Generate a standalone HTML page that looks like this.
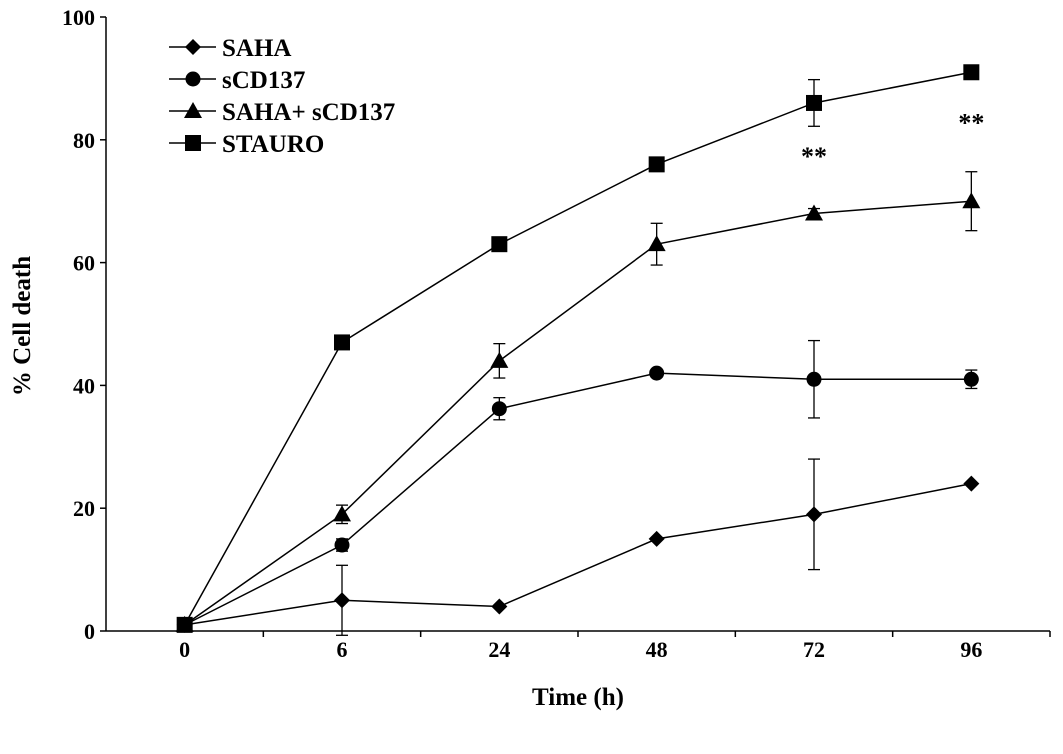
<!DOCTYPE html>
<html><head><meta charset="utf-8"><style>
body{margin:0;background:#fff}
svg text{font-family:"Liberation Serif",serif;font-weight:bold;fill:#000}
</style></head><body>
<svg id="chart" width="1063" height="749" xmlns="http://www.w3.org/2000/svg"></svg>
<script>
const categories=["0","6","24","48","72","96"];
const yTicks=[0,20,40,60,80,100];
const seriesNames=["SAHA","sCD137","SAHA+ sCD137","STAURO"];
const markers=["diamond","circle","triangle","square"];
const sahaVals=[1,5,4,15,19,24];
const sahaErr=[0,5.7,0,0,9,0];
const scdVals=[1,14,36.2,42,41,41];
const scdErr=[0,1,1.8,0,6.3,1.5];
const comboVals=[1,19,44,63,68,70];
const comboErr=[0,1.5,2.8,3.4,0.8,4.8];
const stauroVals=[1,47,63,76,86,91];
const stauroErr=[0,0,0,0,3.8,0];
const starCats=[4,5];
const starVals=[77.5,83];
const NS="http://www.w3.org/2000/svg";
const svg=document.getElementById('chart');
const X0=106,X1=1050,Y0=631,Y1=17;
const band=(X1-X0)/categories.length;
const xs=i=>X0+band*(i+0.5);
const ys=v=>Y0-(v/100)*(Y0-Y1);
function mk(t,a){const e=document.createElementNS(NS,t);for(const k in a)e.setAttribute(k,a[k]);svg.appendChild(e);return e;}
let e;
e=mk('line',{x1:X0,y1:Y1,x2:X0,y2:Y0,stroke:'#000','stroke-width':1.5});


e=mk('line',{x1:X0,y1:Y0,x2:X1,y2:Y0,stroke:'#000','stroke-width':1.5});


yTicks.forEach(v=>{
 mk('line',{x1:X0-6,y1:ys(v),x2:X0,y2:ys(v),stroke:'#000','stroke-width':1.5});
 e=mk('text',{x:X0-11,y:ys(v)+8,'text-anchor':'end','font-size':22});e.textContent=v;
 
 
});
categories.forEach((c,i)=>{
 mk('line',{x1:X0+band*(i+1),y1:Y0,x2:X0+band*(i+1),y2:Y0+6,stroke:'#000','stroke-width':1.5});
 e=mk('text',{x:xs(i),y:Y0+26,'text-anchor':'middle','font-size':22});e.textContent=c;
 
 
});
e=mk('text',{x:30,y:326,'text-anchor':'middle','font-size':25,transform:'rotate(-90 30 326)'});e.textContent='% Cell death';


e=mk('text',{x:578,y:705,'text-anchor':'middle','font-size':25});e.textContent='Time (h)';


function marker(type,x,y){
 if(type==='diamond')return mk('polygon',{points:`${x},${y-8} ${x+8},${y} ${x},${y+8} ${x-8},${y}`,fill:'#000'});
 if(type==='circle')return mk('circle',{cx:x,cy:y,r:7.5,fill:'#000'});
 if(type==='triangle')return mk('polygon',{points:`${x},${y-9} ${x+9},${y+7} ${x-9},${y+7}`,fill:'#000'});
 return mk('rect',{x:x-8,y:y-8,width:16,height:16,fill:'#000'});
}
const allVals=[sahaVals,scdVals,comboVals,stauroVals];
const allErr=[sahaErr,scdErr,comboErr,stauroErr];
allVals.forEach((vals,s)=>{
 e=mk('polyline',{points:vals.map((v,i)=>xs(i)+','+ys(v)).join(' '),fill:'none',stroke:'#000','stroke-width':1.5});
 
 
 vals.forEach((v,i)=>{
  const er=allErr[s][i];
  if(er>0){
   mk('line',{x1:xs(i),y1:ys(v+er),x2:xs(i),y2:ys(v-er),stroke:'#000','stroke-width':1.3});
   mk('line',{x1:xs(i)-6,y1:ys(v+er),x2:xs(i)+6,y2:ys(v+er),stroke:'#000','stroke-width':1.3});
   mk('line',{x1:xs(i)-6,y1:ys(v-er),x2:xs(i)+6,y2:ys(v-er),stroke:'#000','stroke-width':1.3});
  }
  e=marker(markers[s],xs(i),ys(v));
  
  
 });
});
starCats.forEach((c,k)=>{
 e=mk('text',{x:xs(c),y:ys(starVals[k])+10,'text-anchor':'middle','font-size':26});e.textContent='**';
 
 
});
seriesNames.forEach((n,s)=>{
 const y=47+s*32;
 mk('line',{x1:169,y1:y,x2:216,y2:y,stroke:'#000','stroke-width':1.5});
 marker(markers[s],193,y);
 e=mk('text',{x:222,y:y+9,'font-size':25});e.textContent=n;
 
 
});
</script>
</body></html>
